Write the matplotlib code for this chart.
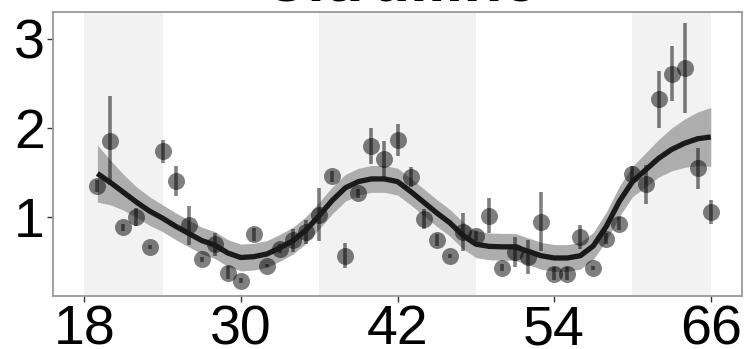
import matplotlib
matplotlib.use("Agg")
import matplotlib.pyplot as plt
import numpy as np

plt.rcParams['font.family'] = ['Liberation Sans', 'DejaVu Sans']

# hourly means with error bars
hours = list(range(19, 67))
means = [1.35, 1.86, 0.89, 1.00, 0.67, 1.74, 1.41, 0.91, 0.53, 0.70,
         0.38, 0.29, 0.81, 0.46, 0.65, 0.745, 0.835, 1.03, 1.46, 0.57,
         1.27, 1.80, 1.65, 1.865, 1.45, 0.985, 0.745, 0.565, 0.835, 0.79,
         1.02, 0.435, 0.61, 0.555, 0.95, 0.37, 0.37, 0.78, 0.435, 0.76,
         0.93, 1.48, 1.37, 2.32, 2.61, 2.67, 1.55, 1.06]
errs = [0.07, 0.50, 0.04, 0.10, 0.02, 0.13, 0.17, 0.22, 0.03, 0.13,
        0.07, 0.03, 0.07, 0.02, 0.05, 0.13, 0.13, 0.30, 0.06, 0.14,
        0.05, 0.20, 0.20, 0.18, 0.11, 0.11, 0.07, 0.02, 0.21, 0.06,
        0.20, 0.04, 0.17, 0.19, 0.33, 0.07, 0.07, 0.13, 0.02, 0.06,
        0.07, 0.10, 0.22, 0.32, 0.31, 0.50, 0.23, 0.13]

# smoothed trend and its confidence half-width
fit = [1.49, 1.39, 1.28, 1.17, 1.07, 0.99, 0.90, 0.82, 0.74, 0.69,
       0.60, 0.55, 0.56, 0.59, 0.66, 0.74, 0.86, 1.02, 1.19, 1.33,
       1.40, 1.43, 1.43, 1.40, 1.29, 1.17, 1.05, 0.94, 0.80, 0.70,
       0.675, 0.67, 0.67, 0.62, 0.57, 0.545, 0.545, 0.57, 0.68, 0.90,
       1.18, 1.40, 1.53, 1.66, 1.76, 1.83, 1.88, 1.90]
se = [0.32, 0.25, 0.20, 0.17, 0.16, 0.15, 0.15, 0.15, 0.15, 0.15,
      0.15, 0.15, 0.15, 0.15, 0.15, 0.15, 0.15, 0.15, 0.15, 0.15,
      0.15, 0.15, 0.15, 0.15, 0.15, 0.15, 0.15, 0.15, 0.15, 0.15,
      0.15, 0.15, 0.15, 0.15, 0.15, 0.15, 0.15, 0.15, 0.15, 0.16,
      0.17, 0.17, 0.19, 0.21, 0.24, 0.27, 0.30, 0.33]

# dark periods
bands = [(18, 24), (36, 48), (60, 66)]
xticks = [18, 30, 42, 54, 66]
yticks = [1, 2, 3]

fig = plt.figure(figsize=(7.45, 3.49), dpi=100)
ax = fig.add_axes([0.0711, 0.152, 0.925, 0.814])

for a, b in bands:
    ax.axvspan(a, b, color='#f2f2f2', lw=0, zorder=0)

x = np.array(hours)
f = np.array(fit)
s = np.array(se)
ax.fill_between(x, f - s, f + s, color='#adadad', lw=0, zorder=1)

ax.errorbar(hours, means, yerr=errs, fmt='none', ecolor='black',
            elinewidth=2.6, alpha=0.5, zorder=2)
ax.scatter(hours, means, s=150, color='black', alpha=0.5, lw=0, zorder=3)

ax.plot(x, f, color='#1a1a1a', lw=3.8, solid_joinstyle='round',
        solid_capstyle='butt', zorder=4)

ax.set_xlim(15.6, 68.4)
ax.set_ylim(0.12, 3.30)
ax.set_xticks(xticks)
ax.set_yticks(yticks)
ax.tick_params(labelsize=40, length=4, width=1, color='#333333', pad=2)
for sp in ax.spines.values():
    sp.set_color('#999999')
    sp.set_linewidth(1.3)

fig.text(0.537, 0.9975, 'Citrulline', fontsize=46, fontweight='bold',
         ha='center', va='baseline')

fig.savefig('out.png', dpi=100)
